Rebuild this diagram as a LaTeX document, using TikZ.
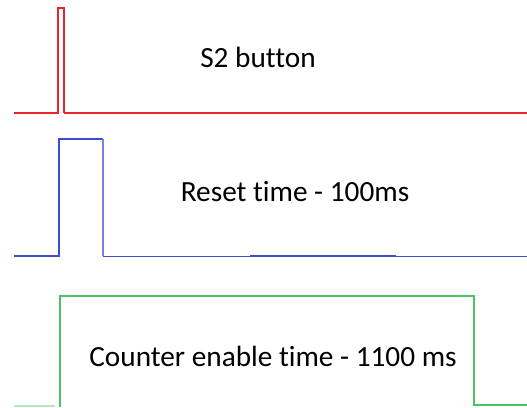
\documentclass[tikz,border=0pt]{standalone}
\usepackage{fontspec}
\setmainfont{Carlito}[Ligatures=NoCommon]
\usepackage{xcolor}
\usepackage{tikz}
\usetikzlibrary{positioning,calc}

\definecolor{sigred}{RGB}{235,35,45}
\definecolor{sigblue}{RGB}{65,75,210}
\definecolor{siggreen}{RGB}{75,195,100}

\begin{document}
\begin{tikzpicture}[x=0.03cm,y=-0.03cm]
    \useasboundingbox (0,0) rectangle (527,407);
    \tikzset{lbl/.style={font=\fontsize{25}{28}\selectfont, text=black, inner sep=0pt}}

    % S2 button
    \draw[sigred, line width=1.2pt] (14,113) -- (58,113) -- (58,8) -- (64,8) -- (64,113);
    \draw[sigred, line width=0.9pt] (64,113) -- (527,113);
    \fill[sigred] (65,112) rectangle (68,114);
    \fill[sigred] (72,112) rectangle (75,114);
    \node[lbl] (s2) at (258,57) {S2 button};

    % Reset time
    \draw[sigblue, line width=1.5pt] (14,256) -- (59,256) -- (59,139) -- (103,139);
    \draw[sigblue!70, line width=0.9pt] (103,139) -- (103,256);
    \draw[sigblue, line width=0.7pt] (103,256) -- (527,256);
    \draw[sigblue, line width=1.3pt] (250,255.3) -- (396,255.3);
    \node[lbl] (reset) at (295,192) {Reset time - 100ms};

    % Counter enable
    \draw[siggreen!40, line width=1pt] (14,406) -- (55,406);
    \draw[siggreen, line width=1pt] (60,407) -- (60,296) -- (474,296) -- (474,405) -- (527,405);
    \node[lbl] (cnt) at (273,356) {Counter enable time - 1100 ms};
\end{tikzpicture}
\end{document}
